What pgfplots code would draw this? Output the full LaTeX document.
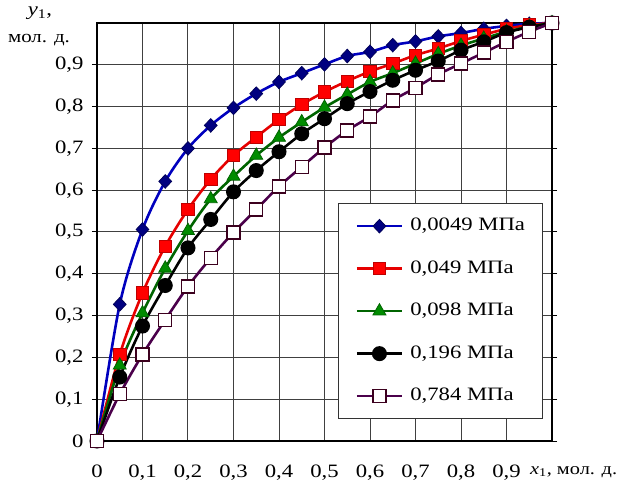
\documentclass[border=0pt]{standalone}
\usepackage{fontspec}
\setmainfont[FakeStretch=1.2]{Liberation Serif}
\usepackage{pgfplots}
\pgfplotsset{compat=1.18}
\definecolor{cblue}{RGB}{0,0,190}
\definecolor{cbluefill}{RGB}{0,0,128}
\definecolor{cred}{RGB}{230,0,0}
\definecolor{credfill}{RGB}{255,0,0}
\definecolor{cgreen}{RGB}{0,100,0}
\definecolor{cgreenfill}{RGB}{0,140,0}
\definecolor{cpurple}{RGB}{75,0,75}
\definecolor{cpurpleedge}{RGB}{60,0,30}
\begin{document}
\begin{tikzpicture}
\begin{axis}[
  at={(0,0)}, anchor=south west,
  scale only axis, width=455bp, height=418bp,
  xmin=0, xmax=1, ymin=0, ymax=1,
  xtick={0,0.1,0.2,0.3,0.4,0.5,0.6,0.7,0.8,0.9},
  ytick={0,0.1,0.2,0.3,0.4,0.5,0.6,0.7,0.8,0.9},
  grid=major,
  major grid style={black!75, line width=1bp},
  axis line style={black, line width=1.6bp},
  xtick align=inside, ytick align=outside,
  major tick length=5bp,
  xtick style={draw=none},
  ytick style={black, line width=1bp},
  tick label style={font=\fontsize{19}{22}\selectfont},
  xticklabel style={yshift=-20bp},
  yticklabel style={xshift=-5bp},
  /pgf/number format/.cd, fixed, precision=1, use comma, assume math mode=true,
  /pgfplots/.cd,
  clip=false,
  legend style={at={(rel axis cs:0.530,0.569)}, anchor=north west,
    draw=black!80, line width=1bp, fill=white,
    font=\fontsize{19}{22}\selectfont,
    inner xsep=17bp, inner ysep=14bp,
    nodes={inner sep=0pt, text height=13bp, text depth=4bp},
    row sep=25.5bp, column sep=7bp},
  legend cell align=left,
  legend image code/.code={\draw[mark repeat=2,mark phase=2] plot coordinates {(0bp,0bp) (22.5bp,0bp) (45bp,0bp)};},
]
\addplot[cblue, line width=2.6bp, smooth, mark=diamond*, mark size=6.8bp,
  mark options={xscale=1.25, fill=cbluefill, draw=cbluefill!70!black, line width=0.8pt, solid}] coordinates {
(0,0) (0.05,0.327) (0.1,0.506) (0.15,0.621) (0.2,0.700) (0.25,0.755) (0.3,0.797)
(0.35,0.831) (0.4,0.859) (0.45,0.880) (0.5,0.901) (0.55,0.921) (0.6,0.931)
(0.65,0.947) (0.7,0.956) (0.75,0.968) (0.8,0.976) (0.85,0.986) (0.9,0.993)
(0.95,0.998) (1,1)};
\addlegendentry{0,0049 МПа}
\addplot[cred, line width=2.6bp, smooth, mark=square*, mark size=6.2bp,
  mark options={fill=credfill, draw=red!75!black, line width=0.8pt, solid}] coordinates {
(0,0) (0.05,0.207) (0.1,0.354) (0.15,0.466) (0.2,0.554) (0.25,0.626) (0.3,0.683)
(0.35,0.727) (0.4,0.769) (0.45,0.805) (0.5,0.835) (0.55,0.861) (0.6,0.884)
(0.65,0.903) (0.7,0.923) (0.75,0.939) (0.8,0.957) (0.85,0.972) (0.9,0.986)
(0.95,0.995) (1,1)};
\addlegendentry{0,049 МПа}
\addplot[cgreen, line width=2.6bp, smooth, mark=triangle*, mark size=7.5bp,
  mark options={fill=cgreenfill, draw=cgreen, line width=0.8pt, solid}] coordinates {
(0,0) (0.05,0.181) (0.1,0.306) (0.15,0.413) (0.2,0.503) (0.25,0.579) (0.3,0.633)
(0.35,0.683) (0.4,0.726) (0.45,0.763) (0.5,0.798) (0.55,0.829) (0.6,0.859)
(0.65,0.880) (0.7,0.903) (0.75,0.926) (0.8,0.946) (0.85,0.963) (0.9,0.979)
(0.95,0.991) (1,1)};
\addlegendentry{0,098 МПа}
\addplot[black, line width=2.6bp, smooth, mark=*, mark size=6.2bp,
  mark options={fill=black, draw=black, solid}] coordinates {
(0,0) (0.05,0.153) (0.1,0.275) (0.15,0.372) (0.2,0.462) (0.25,0.530) (0.3,0.596)
(0.35,0.647) (0.4,0.692) (0.45,0.735) (0.5,0.771) (0.55,0.807) (0.6,0.836)
(0.65,0.863) (0.7,0.887) (0.75,0.909) (0.8,0.935) (0.85,0.955) (0.9,0.977)
(0.95,0.990) (1,1)};
\addlegendentry{0,196 МПа}
\addplot[cpurple, line width=2.6bp, smooth, mark=square*, mark size=6.5bp,
  mark options={fill=white, draw=cpurpleedge, line width=1.4pt, solid}] coordinates {
(0,0) (0.05,0.112) (0.1,0.207) (0.15,0.290) (0.2,0.370) (0.25,0.438) (0.3,0.499)
(0.35,0.554) (0.4,0.609) (0.45,0.656) (0.5,0.702) (0.55,0.743) (0.6,0.776)
(0.65,0.815) (0.7,0.845) (0.75,0.877) (0.8,0.903) (0.85,0.929) (0.9,0.955)
(0.95,0.979) (1,1)};
\addlegendentry{0,784 МПа}
\node[font=\fontsize{19}{22}\selectfont, xshift=-57bp, yshift=10bp] at (rel axis cs:0,1) {\textit{y}\textsubscript{1},};
\node[font=\fontsize{17.5}{22}\selectfont, xshift=-58bp, yshift=-17bp] at (rel axis cs:0,1) {мол. д.};
\node[font=\fontsize{17}{20}\selectfont, anchor=west, inner sep=0pt, xshift=-22bp, yshift=-31bp] at (rel axis cs:1,0) {\textit{x}\textsubscript{1}, мол. д.};
\end{axis}
\pgfresetboundingbox
\path (-97bp,-40bp) rectangle (522bp,441bp);
\end{tikzpicture}
\end{document}
